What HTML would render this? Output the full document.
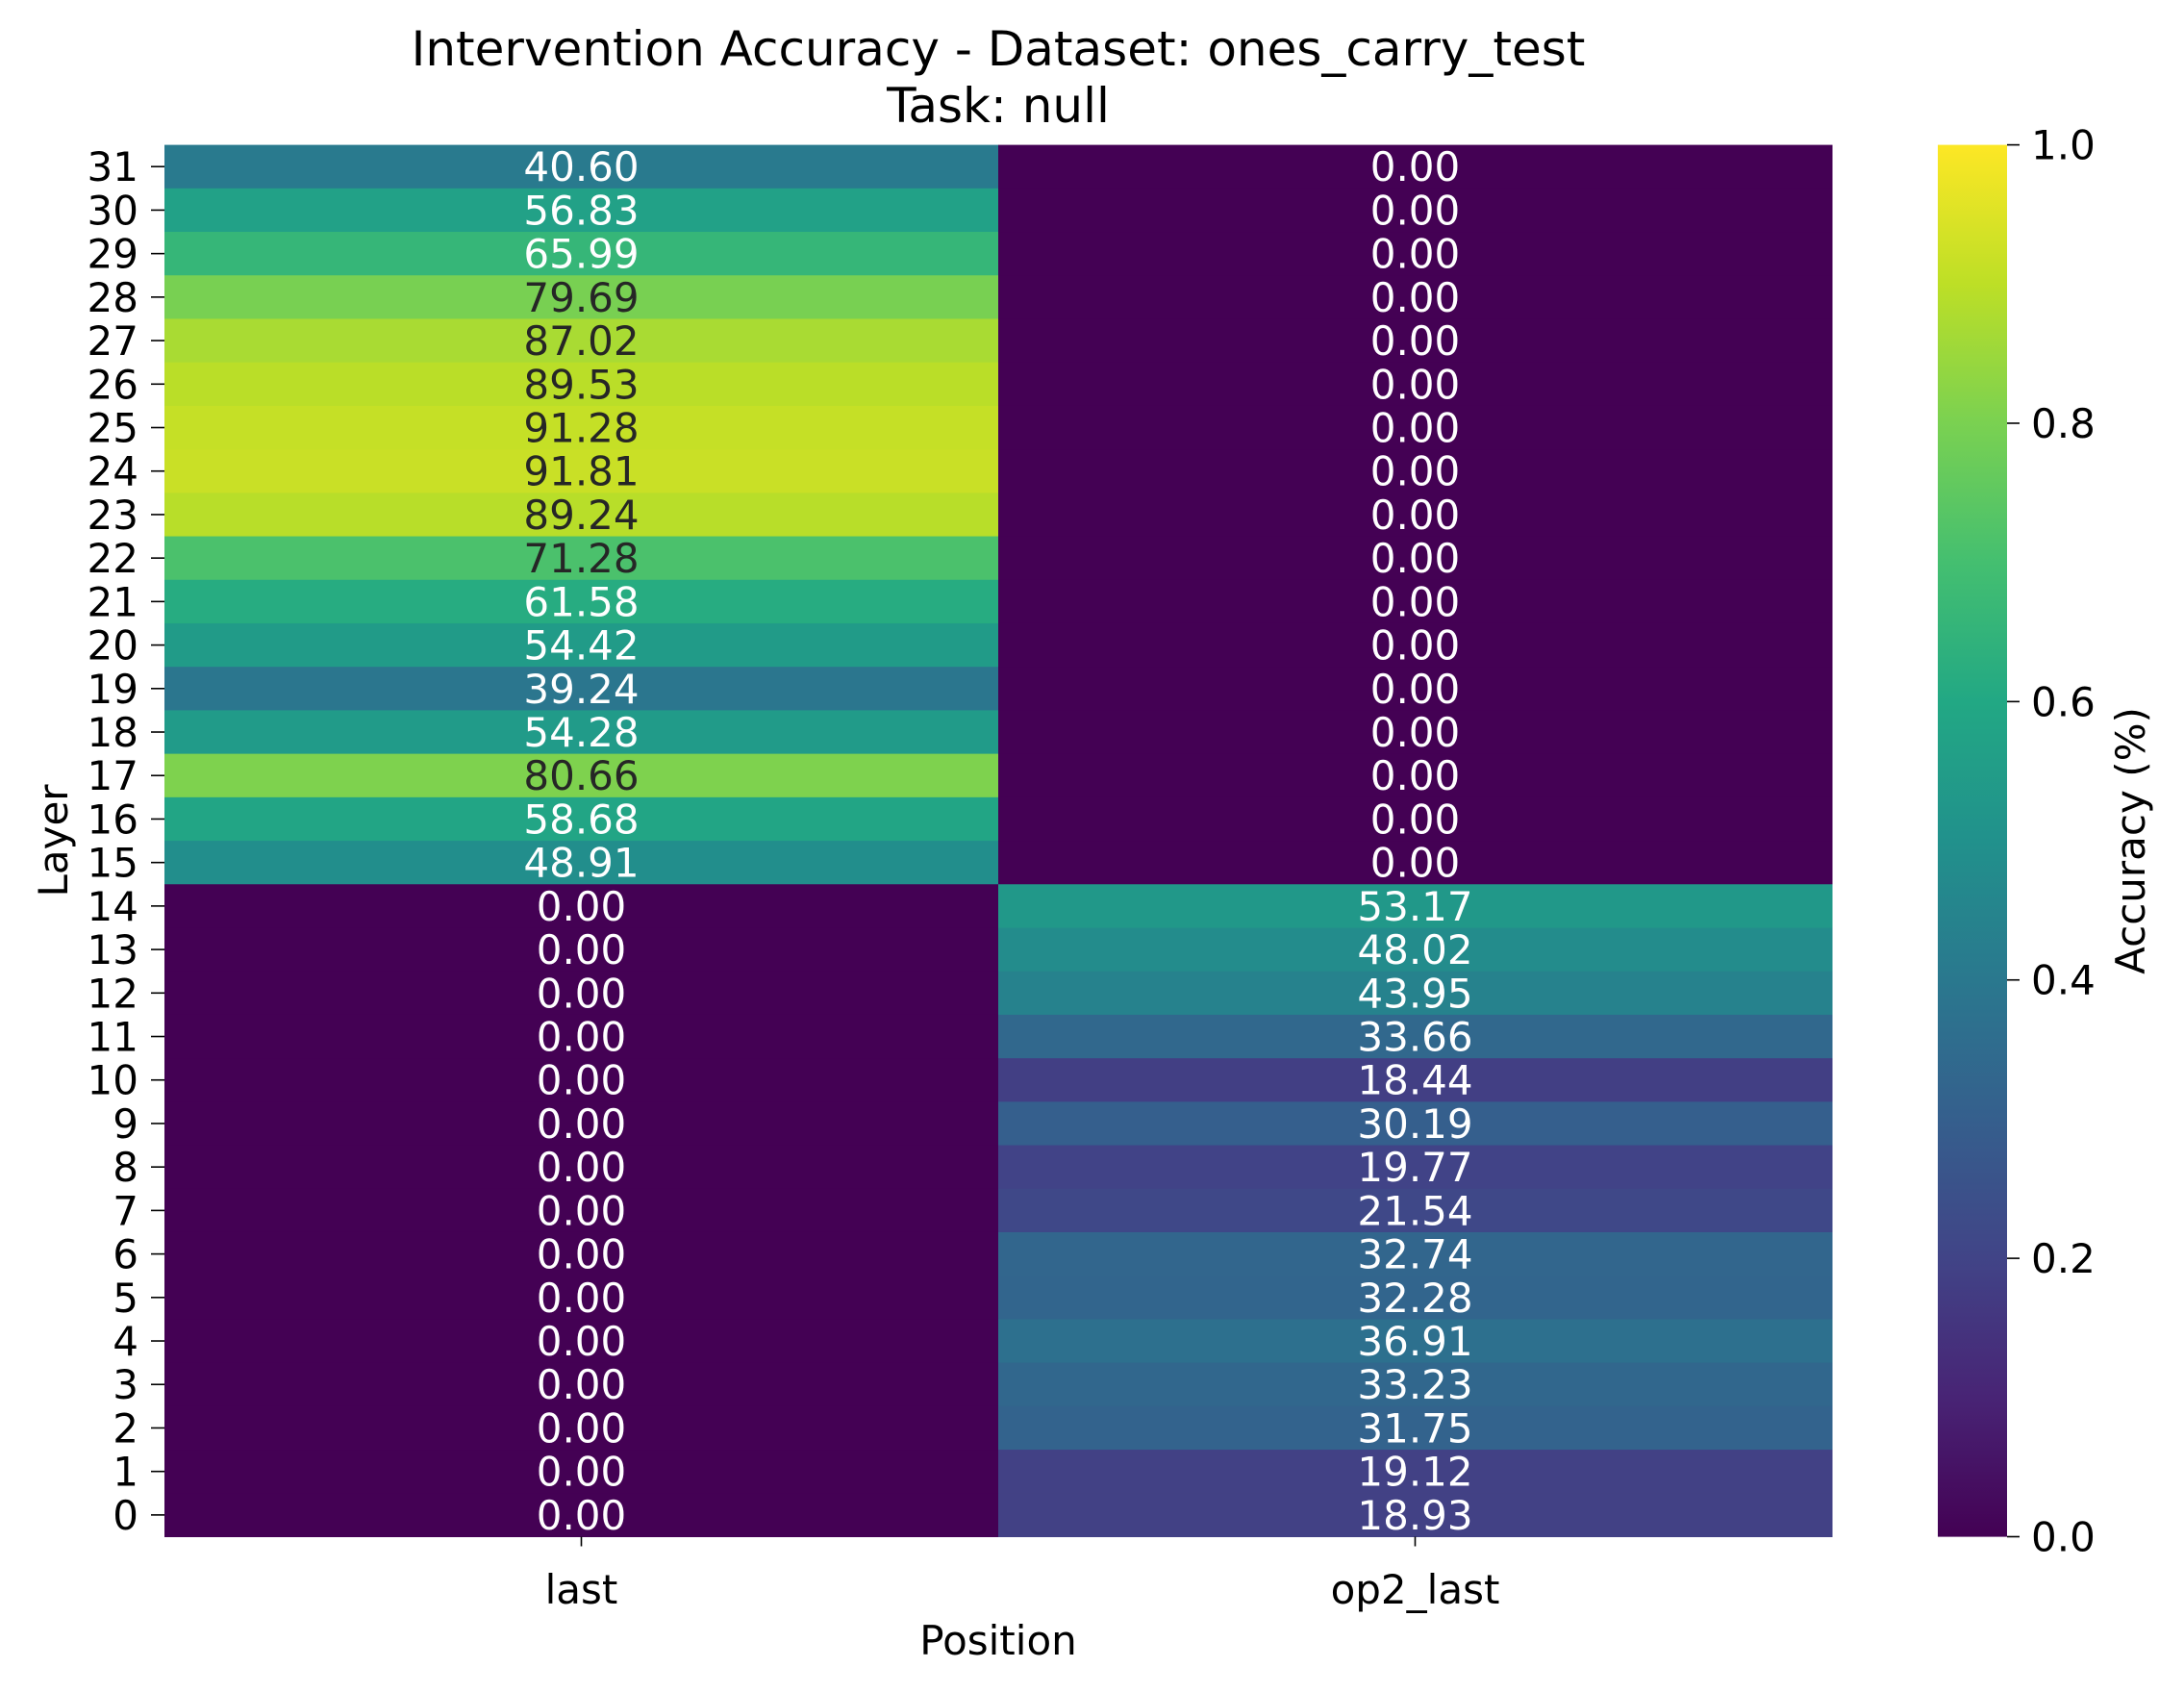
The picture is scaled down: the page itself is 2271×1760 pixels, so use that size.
<!DOCTYPE html>
<html><head><meta charset="utf-8"><style>
html,body{margin:0;padding:0;background:#fff;}
svg{display:block;font-family:"DejaVu Sans","Liberation Sans",sans-serif;}
</style></head><body>
<svg id="chart" width="2271" height="1760" viewBox="0 0 2271 1760">
<defs><linearGradient id="cbg" x1="0" y1="1" x2="0" y2="0">
<stop offset="0" stop-color="#440154"/><stop offset="0.1" stop-color="#482475"/><stop offset="0.2" stop-color="#414487"/><stop offset="0.3" stop-color="#355f8d"/><stop offset="0.4" stop-color="#2a788e"/><stop offset="0.5" stop-color="#21918c"/><stop offset="0.6" stop-color="#22a884"/><stop offset="0.7" stop-color="#44bf70"/><stop offset="0.8" stop-color="#7ad151"/><stop offset="0.9" stop-color="#bddf26"/><stop offset="1" stop-color="#fde725"/>
</linearGradient></defs>
<text x="1038" y="68" font-size="50" text-anchor="middle">Intervention Accuracy - Dataset: ones_carry_test</text>
<text x="1038" y="127" font-size="50" text-anchor="middle">Task: null</text>
<g id="cells"></g>
<g id="yaxis"></g>
<g id="xaxis"></g>
<text x="1038" y="1720" font-size="42" text-anchor="middle">Position</text>
<text transform="translate(70,874) rotate(-90)" font-size="42" text-anchor="middle">Layer</text>
<rect x="2015" y="150.6" width="72" height="1447" fill="url(#cbg)"/>
<g id="cbaxis"></g>
<text transform="translate(2230,874) rotate(-90)" font-size="42" text-anchor="middle">Accuracy (%)</text>
</svg>
<script>
const positions = ["last","op2_last"];
const layers = [31,30,29,28,27,26,25,24,23,22,21,20,19,18,17,16,15,14,13,12,11,10,9,8,7,6,5,4,3,2,1,0];
const lastValues = [40.60,56.83,65.99,79.69,87.02,89.53,91.28,91.81,89.24,71.28,61.58,54.42,39.24,54.28,80.66,58.68,48.91,0,0,0,0,0,0,0,0,0,0,0,0,0,0,0];
const op2Values = [0,0,0,0,0,0,0,0,0,0,0,0,0,0,0,0,0,53.17,48.02,43.95,33.66,18.44,30.19,19.77,21.54,32.74,32.28,36.91,33.23,31.75,19.12,18.93];
const cbTicks = [0.0,0.2,0.4,0.6,0.8,1.0];

const NS="http://www.w3.org/2000/svg";
const L=171,R=1905,T=150.6,B=1597.5;
const cw=(R-L)/positions.length, rh=(B-T)/layers.length;
const xPos=i=>L+i*cw, yPos=i=>T+i*rh;
const stops=["#440154","#482475","#414487","#355f8d","#2a788e","#21918c","#22a884","#44bf70","#7ad151","#bddf26","#fde725"].map(h=>[1,3,5].map(k=>parseInt(h.substr(k,2),16)));
function viridis(v){v=Math.max(0,Math.min(1,v));const f=v*10,i=Math.min(9,Math.floor(f)),t=f-i;return stops[i].map((c,k)=>c+(stops[i+1][k]-c)*t);}
function lum(c){const l=c.map(x=>{x/=255;return x<=0.03928?x/12.92:Math.pow((x+0.055)/1.055,2.4);});return 0.2126*l[0]+0.7152*l[1]+0.0722*l[2];}
function mk(tag,attrs,parent,txt){const e=document.createElementNS(NS,tag);for(const k in attrs)e.setAttribute(k,attrs[k]);if(txt!==undefined)e.textContent=txt;parent.appendChild(e);return e;}
const cells=document.getElementById('cells');
const series=[lastValues,op2Values];
series.forEach((vals,ci)=>{vals.forEach((v,ri)=>{
  const c=viridis(v/100);
  const r=mk('rect',{x:xPos(ci),y:yPos(ri),width:cw+0.5,height:rh+0.5,fill:`rgb(${c.map(Math.round).join(',')})`},cells);
  
  
  const t=mk('text',{x:xPos(ci)+cw/2,y:yPos(ri)+rh/2+15,'font-size':42,'text-anchor':'middle',fill:lum(c)>0.408?'#262626':'#ffffff'},cells,v.toFixed(2));
  
  
});});
const ya=document.getElementById('yaxis');
layers.forEach((l,i)=>{const y=yPos(i)+rh/2;
  const tk=mk('line',{x1:157,x2:171,y1:y,y2:y,stroke:'#000','stroke-width':1.6},ya);
  
  
  const t=mk('text',{x:144,y:y+15,'font-size':42,'text-anchor':'end'},ya,String(l));
  
  });
const xa=document.getElementById('xaxis');
positions.forEach((p,i)=>{const x=xPos(i)+cw/2;
  const tk=mk('line',{x1:x,x2:x,y1:B,y2:B+10,stroke:'#000','stroke-width':1.6},xa);
  
  
  const t=mk('text',{x:x,y:1667,'font-size':42,'text-anchor':'middle'},xa,p);
  
  });
const ca=document.getElementById('cbaxis');
cbTicks.forEach(v=>{const y=B-v*(B-T);
  const tk=mk('line',{x1:2087,x2:2100,y1:y,y2:y,stroke:'#000','stroke-width':1.6},ca);
  
  
  const t=mk('text',{x:2112,y:y+15,'font-size':42},ca,v.toFixed(1));
  
  });
</script>
</body></html>
